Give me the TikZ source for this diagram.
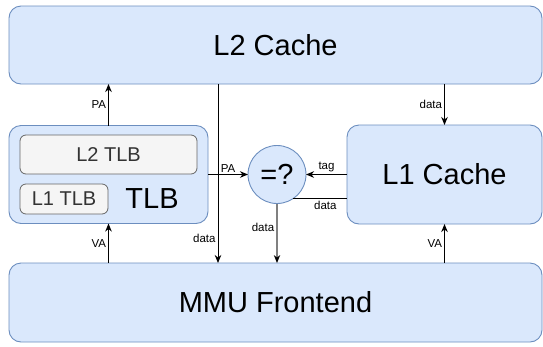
\documentclass[tikz,border=0pt]{standalone}
\usepackage{fontspec}
\setmainfont{Liberation Sans}
\usetikzlibrary{arrows.meta,calc}

\definecolor{boxfill}{HTML}{DAE8FC}
\definecolor{boxline}{HTML}{6C8EBF}
\definecolor{subfill}{HTML}{F5F5F5}
\definecolor{subline}{HTML}{666666}
\definecolor{subtext}{HTML}{333333}
\definecolor{greyline}{HTML}{808080}

\tikzset{
  unit/.style={draw=boxline, fill=boxfill, line width=0.9pt, rounded corners=12pt,
    inner sep=0pt, outer sep=0pt, font=\fontsize{29}{32}\selectfont},
  subunit/.style={draw=subline, fill=subfill, line width=0.8pt, rounded corners=6pt,
    inner sep=0pt, outer sep=0pt, text=subtext, font=\fontsize{20}{22}\selectfont},
  cmp/.style={circle, draw=boxline, fill=boxfill, line width=0.9pt, minimum size=58pt,
    inner sep=0pt, outer sep=0pt, font=\fontsize{29}{32}\selectfont},
  arr/.style={line width=1pt, -{Stealth[length=8pt,width=6.5pt,inset=2.5pt]}},
  greyarr/.style={line width=1.6pt, draw=greyline,
    -{Stealth[length=8pt,width=6.5pt,inset=2.5pt,line width=0pt,black,fill=black]}},
  plain/.style={line width=1pt},
  lbl/.style={font=\fontsize{11.5}{13}\selectfont, inner sep=2pt},
}

\begin{document}
\begin{tikzpicture}[x=1pt, y=-1pt]
  \useasboundingbox (0,0) rectangle (543,346);

  % main blocks
  \node[unit, minimum width=533pt, minimum height=78pt] (l2) at (275.5,45) {L2 Cache};
  \node[unit, minimum width=199pt, minimum height=98pt] (tlb) at (108.5,174.5) {};
  \node[subunit, minimum width=177pt, minimum height=39pt] (l2tlb) at (108.5,154.5) {L2 TLB};
  \node[subunit, minimum width=88pt, minimum height=30pt] (l1tlb) at (64,199) {L1 TLB};
  \node[font=\fontsize{29}{32}\selectfont, inner sep=0pt] (tlbname) at (152,199) {TLB};
  \node[cmp] (cmp) at (277,174.5) {=?};
  \node[unit, minimum width=195pt, minimum height=99pt] (l1) at (444.5,174.5) {L1 Cache};
  \node[unit, minimum width=533pt, minimum height=79pt] (mmu) at (275.5,302.5) {MMU Frontend};

  % address paths
  \draw[arr] (tlb.north) -- (tlb.north |- l2.south)
    node[lbl, left, midway] (lpa1) {PA};
  \draw[arr] (mmu.north -| tlb.north) -- (tlb.south)
    node[lbl, left, midway] (lva1) {VA};
  \draw[arr] (mmu.north -| l1.north) -- (l1.south)
    node[lbl, left, midway] (lva2) {VA};
  \draw[arr] (tlb.east) -- (cmp.west)
    node[lbl, above, midway] (lpa2) {PA};
  \draw[arr] (l1.west) -- (cmp.east)
    node[lbl, above, midway] (ltag) {tag};

  % data paths
  \draw[arr] (l2.south -| 218,0) -- (mmu.north -| 218,0)
    node[lbl, left, pos=0.86] (ld1) {data};
  \draw[arr] (l1.north |- l2.south) -- (l1.north)
    node[lbl, left, midway] (ld2) {data};
  \draw[plain] (cmp.-57.5) -- (cmp.-57.5 -| l1.west)
    node[lbl, below, pos=0.6] (ld3) {data};
  \draw[greyarr] (cmp.south) -- (cmp.south |- mmu.north)
    node[lbl, left, pos=0.4] (ld4) {data};
\end{tikzpicture}
\end{document}
